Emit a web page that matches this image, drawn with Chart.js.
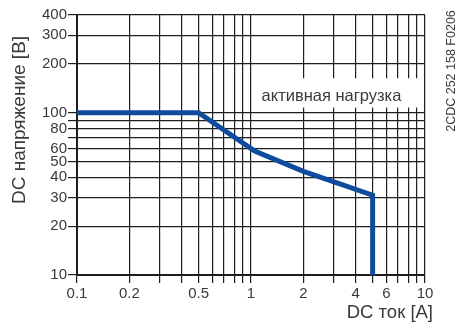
<!DOCTYPE html>
<html>
<head>
<meta charset="utf-8">
<script src="https://cdn.jsdelivr.net/npm/chart.js@4/dist/chart.umd.min.js"></script>
<style>
  html, body { margin: 0; padding: 0; background: #fff; }
  #wrap { width: 459px; height: 325px; position: relative; }
</style>
</head>
<body>
<div id="wrap"><canvas id="c" width="459" height="325"></canvas></div>
<script>
// ---- data ----
const currentA = [0.1, 0.5, 1.05, 2, 3, 5, 5];
const voltageV = [100, 100, 58, 43.5, 37.5, 31, 10];
const xGridValues = [0.1,0.2,0.3,0.4,0.5,0.6,0.7,0.8,0.9,1,2,3,4,5,6,7,8,9,10];
const xLabelValues = [0.1, 0.2, 0.5, 1, 2, 4, 6, 10];
const yGridValues = [10,20,30,40,50,60,70,80,90,100,200,300,400];
const yLabelValues = [10,20,30,40,50,60,80,100,200,300,400];
const xTitle = 'DC ток [A]';
const yTitle = 'DC напряжение [В]';
const curveLabel = 'активная нагрузка';
const docCode = '2CDC 252 158 F0206';

const FONT = "'Liberation Sans', Arial, Helvetica, sans-serif";
const TXT = '#3a3a3a';
const GRID = '#1e1e1e';

const annotPlugin = {
  id: 'annot',
  beforeDatasetsDraw(chart) {
    const ctx = chart.ctx, xs = chart.scales.x, ys = chart.scales.y;
    const x0 = xs.getPixelForValue(1.05), x1 = xs.getPixelForValue(9.85);
    const y0 = ys.getPixelForValue(163), y1 = ys.getPixelForValue(107.5);
    ctx.save();
    ctx.fillStyle = '#fff';
    ctx.fillRect(x0, y0, x1 - x0, y1 - y0);
    ctx.fillStyle = TXT;
    ctx.font = '16.5px ' + FONT;
    ctx.textAlign = 'center';
    ctx.textBaseline = 'middle';
    ctx.fillText(curveLabel, xs.getPixelForValue(2.9), ys.getPixelForValue(126));
    ctx.restore();
  },
  afterDraw(chart) {
    const ctx = chart.ctx;
    ctx.save();
    ctx.fillStyle = TXT;
    ctx.textBaseline = 'middle';
    // y title
    ctx.font = '19px ' + FONT;
    ctx.translate(20, 120);
    ctx.rotate(-Math.PI / 2);
    ctx.textAlign = 'center';
    ctx.fillText(yTitle, 0, 0);
    ctx.restore();
    ctx.save();
    ctx.fillStyle = TXT;
    ctx.textBaseline = 'middle';
    ctx.font = '18.5px ' + FONT;
    ctx.textAlign = 'right';
    ctx.fillText(xTitle, 433, 313);
    ctx.restore();
    ctx.save();
    ctx.fillStyle = TXT;
    ctx.textBaseline = 'middle';
    ctx.font = '12.5px ' + FONT;
    ctx.translate(452, 71);
    ctx.rotate(-Math.PI / 2);
    ctx.textAlign = 'center';
    ctx.fillText(docCode, 0, 0);
    ctx.restore();
  }
};

const fmt = v => String(v);

new Chart(document.getElementById('c'), {
  type: 'line',
  data: {
    datasets: [{
      data: currentA.map((x, i) => ({ x, y: voltageV[i] })),
      borderColor: '#0e4c9e',
      borderWidth: 5,
      pointRadius: 0,
      tension: 0,
      fill: false,
      borderJoinStyle: 'miter',
      borderCapStyle: 'butt'
    }]
  },
  options: {
    responsive: false,
    animation: false,
    devicePixelRatio: 1,
    layout: { autoPadding: false, padding: { top: 15, right: 34, left: 0, bottom: 0 } },
    plugins: { legend: { display: false }, tooltip: { enabled: false } },
    scales: {
      x: {
        type: 'logarithmic',
        min: 0.1, max: 10,
        afterFit(s) { s.height = 50; },
        afterBuildTicks(s) { s.ticks = xGridValues.map(v => ({ value: v })); },
        ticks: {
          autoSkip: false, maxRotation: 0, padding: 2,
          color: TXT, font: { family: FONT, size: 15 },
          callback: v => xLabelValues.includes(v) ? fmt(v) : ''
        },
        grid: { color: GRID, lineWidth: 1.2, tickLength: 8, tickColor: GRID, tickWidth: 1.2 },
        border: { display: true, color: GRID, width: 2 }
      },
      y: {
        type: 'logarithmic',
        min: 10, max: 400,
        afterFit(s) { s.width = 77; },
        afterBuildTicks(s) { s.ticks = yGridValues.map(v => ({ value: v })); },
        ticks: {
          autoSkip: false, padding: 1,
          color: TXT, font: { family: FONT, size: 15 },
          callback: v => yLabelValues.includes(v) ? fmt(v) : ''
        },
        grid: { color: GRID, lineWidth: 1.2, tickLength: 9, tickColor: GRID, tickWidth: 1.2 },
        border: { display: true, color: GRID, width: 2 }
      }
    }
  },
  plugins: [annotPlugin]
});
</script>
</body>
</html>
